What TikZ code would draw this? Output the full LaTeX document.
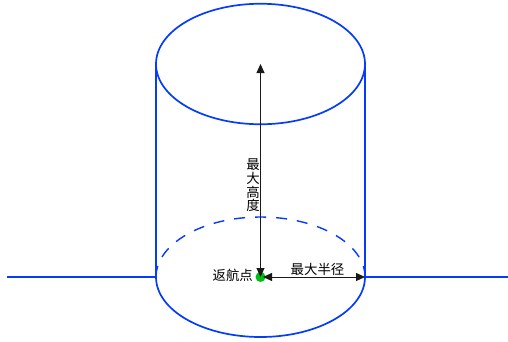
\documentclass[tikz,border=0pt]{standalone}
\usepackage{fontspec}
\usetikzlibrary{arrows.meta,shapes.geometric}
\newfontfamily\cjk{Noto Sans CJK SC}
\definecolor{cylblue}{RGB}{5,60,250}
\definecolor{homegreen}{RGB}{0,190,20}
\tikzset{
  x=1pt,y=-1pt,
  cyl/.style={draw=cylblue,line width=1.7pt},
  dim/.style={draw=black!90,line width=0.9pt},
  bothtip/.style={{Triangle[length=9pt,width=8pt]}-{Triangle[length=9pt,width=8pt]}},
  lbl/.style={font=\cjk\fontsize{13.4}{13.7}\selectfont,text=black,inner sep=0pt,align=center},
  topell/.style={ellipse,cyl,minimum width=209pt,minimum height=120.5pt,inner sep=0pt,outer sep=0pt},
  homept/.style={circle,fill=homegreen,minimum size=10pt,inner sep=0pt}
}
\begin{document}
\begin{tikzpicture}
\useasboundingbox (0,0) rectangle (508,341);
\node[topell] (top) at (260.5,64) {};
\coordinate (botL) at (156,277);
\coordinate (botR) at (365,277);
\coordinate (lineL) at (7,277);
\coordinate (lineR) at (508,277);
\coordinate (topL) at (156,64);
\coordinate (topR) at (365,64);
\coordinate (topC) at (260.5,64);
\coordinate (homeC) at (260.5,277);
\coordinate (radL) at (263,277);
% cylinder
\draw[cyl] (topL) -- (botL);
\draw[cyl] (topR) -- (botR);
\draw[cyl] (botL) arc[start angle=180,end angle=360,x radius=104.5pt,y radius=60pt];
\draw[cyl,line width=1.4pt,dash pattern=on 11pt off 10pt] (botR) arc[start angle=0,end angle=180,x radius=104.5pt,y radius=60pt];
\draw[cyl] (lineL) -- (botL);
\draw[cyl] (botR) -- (lineR);
% home point and dimensions
\node[homept] (home) at (homeC) {};
\draw[dim,bothtip] (homeC) -- (topC);
\draw[dim,bothtip] (radL) -- (botR);
% labels
\node[lbl,anchor=east] (homelbl) at (253,275) {返航点};
\node[lbl] (radlbl) at (317.5,269.5) {最大半径};
\node[lbl] (hlbl) at (253,185.5) {最\\大\\高\\度};
\end{tikzpicture}
\end{document}
